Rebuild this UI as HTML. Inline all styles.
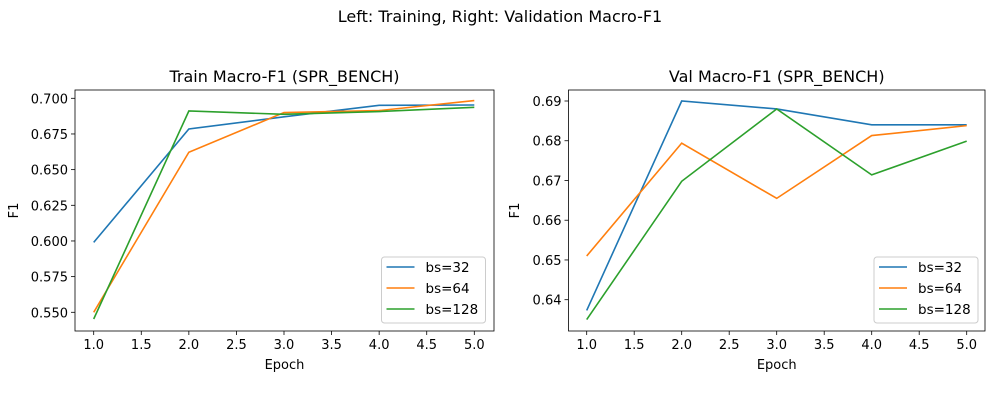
<!DOCTYPE html>
<html><head><meta charset="utf-8"><style>
body{margin:0;background:#fff;}
svg{display:block;font-family:"DejaVu Sans","Liberation Sans",sans-serif;}
</style></head><body>
<svg id="fig" width="1000" height="400" viewBox="0 0 1000 400">
<rect width="1000" height="400" fill="#fff"/>
<text x="500" y="22" text-anchor="middle" font-size="16" fill="#000">Left: Training, Right: Validation Macro-F1</text>
</svg>
<script>
const epochs=[1,2,3,4,5];
const seriesNames=["bs=32","bs=64","bs=128"];
const colors=["#1f77b4","#ff7f0e","#2ca02c"];
const trainBs32=[0.599,0.6785,0.687,0.6951,0.6953];
const trainBs64=[0.550,0.6622,0.690,0.6914,0.6984];
const trainBs128=[0.5453,0.6911,0.6888,0.6907,0.6937];
const valBs32=[0.6373,0.690,0.688,0.684,0.684];
const valBs64=[0.651,0.6794,0.6655,0.6813,0.6838];
const valBs128=[0.635,0.6698,0.688,0.6714,0.6799];
const xTicks=[1.0,1.5,2.0,2.5,3.0,3.5,4.0,4.5,5.0];
const trainYTicks=[0.550,0.575,0.600,0.625,0.650,0.675,0.700];
const valYTicks=[0.640,0.650,0.660,0.670,0.680,0.690];
const NS="http://www.w3.org/2000/svg";
const fig=document.getElementById('fig');
function mk(tag,attrs,parent){const e=document.createElementNS(NS,tag);for(const k in attrs)e.setAttribute(k,attrs[k]);(parent||fig).appendChild(e);return e;}
function panel(o){
  const g=mk('g',{});
  
  
  const xs=v=>o.x0+(v-1)/(4)*(o.x1-o.x0);
  const ys=v=>o.yA+(v-o.vA)/(o.vB-o.vA)*(o.yB-o.yA);
  xTicks.forEach(t=>{
    const x=xs(t);
    mk('line',{x1:x,x2:x,y1:o.bottom,y2:o.bottom+4,stroke:'#000','stroke-width':0.8},g);
    const tx=mk('text',{x:x,y:o.bottom+18,'text-anchor':'middle','font-size':13},g);
    tx.textContent=t.toFixed(1);
    
    
  });
  o.yTicks.forEach(t=>{
    const y=ys(t);
    mk('line',{x1:o.left-4,x2:o.left,y1:y,y2:y,stroke:'#000','stroke-width':0.8},g);
    const tx=mk('text',{x:o.left-7,y:y+5,'text-anchor':'end','font-size':13},g);
    tx.textContent=t.toFixed(o.dec);
    
    
  });
  o.series.forEach((s,i)=>{
    const p=mk('polyline',{points:epochs.map((e,j)=>xs(e)+','+ys(s[j])).join(' '),fill:'none',stroke:colors[i],'stroke-width':1.6},g);
    
    
  });
  mk('rect',{x:o.left,y:o.top,width:o.right-o.left,height:o.bottom-o.top,fill:'none',stroke:'#000','stroke-width':0.8},g);
  const t=mk('text',{x:(o.left+o.right)/2,y:o.top-8,'text-anchor':'middle','font-size':16},g);
  t.textContent=o.title;
  
  
  const xl=mk('text',{x:(o.left+o.right)/2,y:o.bottom+38,'text-anchor':'middle','font-size':13},g);
  xl.textContent='Epoch';
  
  
  const yl=mk('text',{x:0,y:0,'text-anchor':'middle','font-size':13,transform:`translate(${o.ylx},${(o.top+o.bottom)/2}) rotate(-90)`},g);
  yl.textContent='F1';
  
  
  const lg=mk('g',{},g);
  
  
  mk('rect',{x:o.lgx,y:257,width:104,height:66,rx:3,fill:'#fff',stroke:'#ccc','stroke-width':1},lg);
  seriesNames.forEach((n,i)=>{
    const y=267+i*21;
    mk('line',{x1:o.lgx+5,x2:o.lgx+33,y1:y,y2:y,stroke:colors[i],'stroke-width':1.6},lg);
    const tt=mk('text',{x:o.lgx+44,y:y+5,'font-size':13.5},lg);
    tt.textContent=n;
    
    
  });
}
panel({name:'train-panel',left:75,right:494,top:90,bottom:331,x0:93.7,x1:474.3,yA:312.3,vA:0.55,yB:98.3,vB:0.70,yTicks:trainYTicks,dec:3,series:[trainBs32,trainBs64,trainBs128],title:'Train Macro-F1 (SPR_BENCH)',ylx:18,lgx:381.5});
panel({name:'val-panel',left:568.5,right:985,top:90,bottom:331,x0:586.7,x1:966.7,yA:299.7,vA:0.64,yB:101,vB:0.69,yTicks:valYTicks,dec:2,series:[valBs32,valBs64,valBs128],title:'Val Macro-F1 (SPR_BENCH)',ylx:519,lgx:874});
</script>
</body></html>
